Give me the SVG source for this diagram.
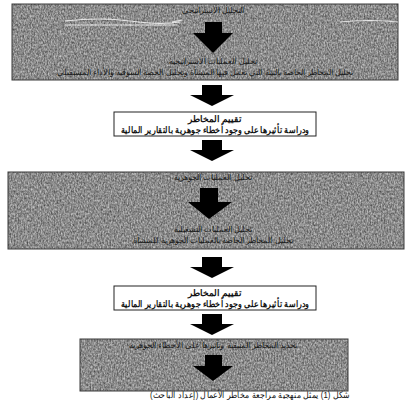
<svg xmlns="http://www.w3.org/2000/svg" xmlns:xlink="http://www.w3.org/1999/xlink" width="406" height="400" viewBox="0 0 406 400">
<style>
.gray{stroke:#3a3a3a;stroke-width:1}
.wbox{fill:#fff;stroke:#222;stroke-width:1}
.t{font-family:"Liberation Sans",Arial,sans-serif;font-weight:bold;fill:#111;text-anchor:middle;direction:rtl;unicode-bidi:embed}
.gt{font-family:"Liberation Sans",Arial,sans-serif;fill:#1a1a1a;text-anchor:middle;font-size:8px;direction:rtl;unicode-bidi:embed}
.cap{font-family:"Liberation Sans",Arial,sans-serif;fill:#111;text-anchor:middle;font-size:9px;direction:rtl;unicode-bidi:embed}
.arr{fill:#000}
.hl{stroke:#f4f4f4;stroke-width:1.2;fill:none;opacity:0.85}
</style>
<defs>
<filter id="noise" x="0" y="0" width="1" height="1" filterUnits="objectBoundingBox" color-interpolation-filters="sRGB">
<feTurbulence type="fractalNoise" baseFrequency="0.7 0.45" numOctaves="2" seed="3" result="n"/>
<feColorMatrix in="n" type="matrix" values="0.65 0 0 0 0.22  0.65 0 0 0 0.22  0.65 0 0 0 0.22  0 0 0 0 1" result="g"/>
<feComposite in="g" in2="SourceGraphic" operator="in"/>
</filter>
<path id="arrow" d="M-10,0 H10 V10 H22 L0,21 L-22,10 H-10 Z"/>
</defs>
<rect width="406" height="400" fill="#fff"/>

<g id="node-analysis">
<rect x="12" y="4" width="386" height="76" fill="#8c8c8c" filter="url(#noise)"/>
<rect x="12" y="4" width="386" height="76" class="gray" fill="none"/>
<path class="hl" d="M65,21 Q100,17 130,21 T180,22 M172,22 L182,20 M340,22 Q370,19 398,22 M65,25 L175,25"/>
<text class="gt" x="213" y="13">التحليل الاستراتيجي</text>
<path class="arr" d="M205,22 H222 V33 H233 L213,53 L193,33 H205 Z"/>
<text class="gt" x="213" y="64">تحليل العمليات الاستراتيجية</text>
<text class="gt" x="205" y="75">تحليل المخاطر الخاصة بالبيئة التي تعمل فيها المنشأة وتحليل الحصة السوقية والأداء المستقبلي</text>
</g>

<g id="node-risk1">
<rect x="114" y="112" width="202" height="24" class="wbox"/>
<text class="t" x="215" y="122" font-size="8.5">تقييم المخاطر</text>
<text class="t" x="215" y="133" font-size="8.5" textLength="188" lengthAdjust="spacingAndGlyphs">ودراسة تأثيرها على وجود أخطاء جوهرية بالتقارير المالية</text>
</g>

<g id="node-process">
<rect x="8" y="172" width="396" height="77" fill="#8c8c8c" filter="url(#noise)"/>
<rect x="8" y="172" width="396" height="77" class="gray" fill="none"/>
<text class="gt" x="213" y="180">تحليل العمليات الجوهرية</text>
<path class="arr" d="M200,188 H218 V202 H232 L209,219 L188,202 H200 Z"/>
<text class="gt" x="213" y="232">تحليل العمليات التشغيلية</text>
<text class="gt" x="213" y="243">تحليل المخاطر الخاصة بالعمليات الجوهرية للمنشأة</text>
</g>

<g id="node-risk2">
<rect x="114" y="286" width="202" height="24" class="wbox"/>
<text class="t" x="215" y="296" font-size="8.5">تقييم المخاطر</text>
<text class="t" x="215" y="307" font-size="8.5" textLength="188" lengthAdjust="spacingAndGlyphs">ودراسة تأثيرها على وجود أخطاء جوهرية بالتقارير المالية</text>
</g>

<g id="node-residual">
<rect x="80" y="339" width="268" height="52" fill="#8c8c8c" filter="url(#noise)"/>
<rect x="80" y="339" width="268" height="52" class="gray" fill="none"/>
<text class="gt" x="213" y="348">تحديد المخاطر المتبقية وتأثيرها على الأخطاء الجوهرية</text>
<path class="arr" d="M205,355 H222 V366 H233 L213,381 L193,366 H205 Z"/>
</g>

<g id="connectors">
<use xlink:href="#arrow" x="212" y="85" class="arr"/>
<use xlink:href="#arrow" x="212" y="140" class="arr"/>
<use xlink:href="#arrow" x="212" y="257" class="arr"/>
<use xlink:href="#arrow" x="212" y="314" class="arr"/>
</g>

<text class="cap" x="250" y="398" textLength="200" lengthAdjust="spacingAndGlyphs">شكل (1) يمثل منهجية مراجعة مخاطر الأعمال (إعداد الباحث)</text>
</svg>
